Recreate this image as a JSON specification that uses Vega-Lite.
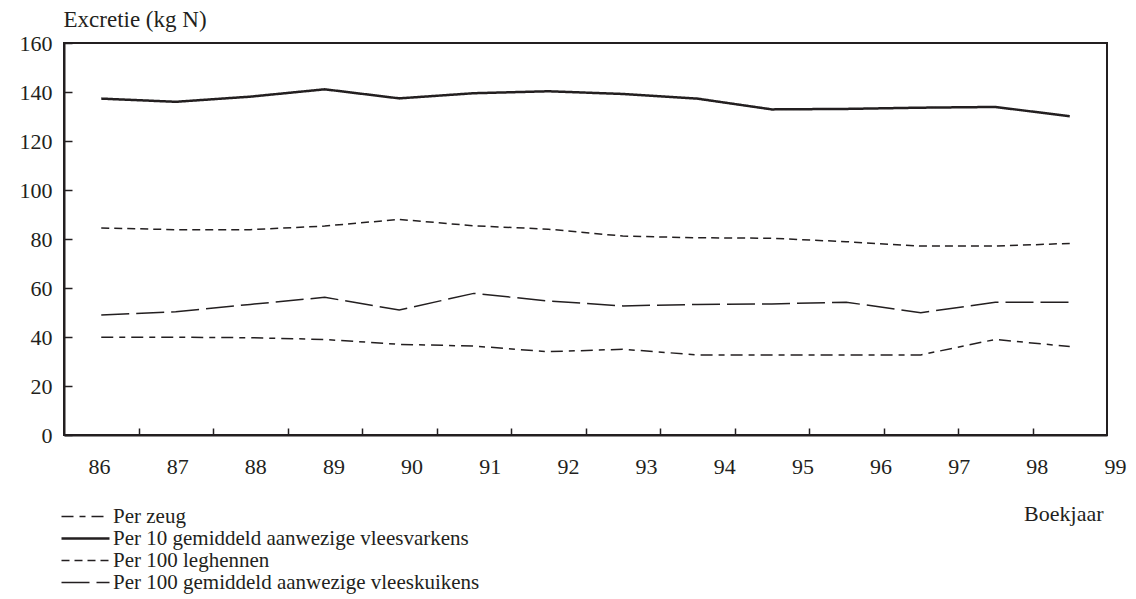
{
  "$schema": "https://vega.github.io/schema/vega-lite/v6.json",
  "width": 1043,
  "height": 392,
  "autosize": {"type": "none"},
  "padding": {"left": 64, "top": 43, "right": 29, "bottom": 164},
  "background": "white",
  "config": {
    "view": {"stroke": "#231f20", "strokeWidth": 2},
    "font": "Liberation Serif",
    "axis": {"grid": false, "labelFont": "Liberation Serif", "titleFont": "Liberation Serif", "labelColor": "#231f20", "titleColor": "#231f20", "domainColor": "#231f20", "tickColor": "#231f20", "titleFontWeight": "normal"}
  },
  "data": {
    "values": [
      {"year": 86, "series": "Per zeug", "value": 39.9},
      {"year": 87, "series": "Per zeug", "value": 39.9},
      {"year": 88, "series": "Per zeug", "value": 39.7},
      {"year": 89, "series": "Per zeug", "value": 39.0},
      {"year": 90, "series": "Per zeug", "value": 37.0},
      {"year": 91, "series": "Per zeug", "value": 36.3},
      {"year": 92, "series": "Per zeug", "value": 34.0},
      {"year": 93, "series": "Per zeug", "value": 35.0},
      {"year": 94, "series": "Per zeug", "value": 32.7},
      {"year": 95, "series": "Per zeug", "value": 32.7},
      {"year": 96, "series": "Per zeug", "value": 32.7},
      {"year": 97, "series": "Per zeug", "value": 32.7},
      {"year": 98, "series": "Per zeug", "value": 39.0},
      {"year": 99, "series": "Per zeug", "value": 36.1},
      {"year": 86, "series": "Per 10 gemiddeld aanwezige vleesvarkens", "value": 137.3},
      {"year": 87, "series": "Per 10 gemiddeld aanwezige vleesvarkens", "value": 136.0},
      {"year": 88, "series": "Per 10 gemiddeld aanwezige vleesvarkens", "value": 138.1},
      {"year": 89, "series": "Per 10 gemiddeld aanwezige vleesvarkens", "value": 141.1},
      {"year": 90, "series": "Per 10 gemiddeld aanwezige vleesvarkens", "value": 137.4},
      {"year": 91, "series": "Per 10 gemiddeld aanwezige vleesvarkens", "value": 139.5},
      {"year": 92, "series": "Per 10 gemiddeld aanwezige vleesvarkens", "value": 140.3},
      {"year": 93, "series": "Per 10 gemiddeld aanwezige vleesvarkens", "value": 139.2},
      {"year": 94, "series": "Per 10 gemiddeld aanwezige vleesvarkens", "value": 137.3},
      {"year": 95, "series": "Per 10 gemiddeld aanwezige vleesvarkens", "value": 132.9},
      {"year": 96, "series": "Per 10 gemiddeld aanwezige vleesvarkens", "value": 133.1},
      {"year": 97, "series": "Per 10 gemiddeld aanwezige vleesvarkens", "value": 133.6},
      {"year": 98, "series": "Per 10 gemiddeld aanwezige vleesvarkens", "value": 133.9},
      {"year": 99, "series": "Per 10 gemiddeld aanwezige vleesvarkens", "value": 130.1},
      {"year": 86, "series": "Per 100 leghennen", "value": 84.5},
      {"year": 87, "series": "Per 100 leghennen", "value": 83.8},
      {"year": 88, "series": "Per 100 leghennen", "value": 83.8},
      {"year": 89, "series": "Per 100 leghennen", "value": 85.3},
      {"year": 90, "series": "Per 100 leghennen", "value": 88.0},
      {"year": 91, "series": "Per 100 leghennen", "value": 85.4},
      {"year": 92, "series": "Per 100 leghennen", "value": 84.0},
      {"year": 93, "series": "Per 100 leghennen", "value": 81.2},
      {"year": 94, "series": "Per 100 leghennen", "value": 80.5},
      {"year": 95, "series": "Per 100 leghennen", "value": 80.3},
      {"year": 96, "series": "Per 100 leghennen", "value": 78.9},
      {"year": 97, "series": "Per 100 leghennen", "value": 77.1},
      {"year": 98, "series": "Per 100 leghennen", "value": 77.1},
      {"year": 99, "series": "Per 100 leghennen", "value": 78.2},
      {"year": 86, "series": "Per 100 gemiddeld aanwezige vleeskuikens", "value": 49.0},
      {"year": 87, "series": "Per 100 gemiddeld aanwezige vleeskuikens", "value": 50.3},
      {"year": 88, "series": "Per 100 gemiddeld aanwezige vleeskuikens", "value": 53.3},
      {"year": 89, "series": "Per 100 gemiddeld aanwezige vleeskuikens", "value": 56.2},
      {"year": 90, "series": "Per 100 gemiddeld aanwezige vleeskuikens", "value": 51.0},
      {"year": 91, "series": "Per 100 gemiddeld aanwezige vleeskuikens", "value": 57.8},
      {"year": 92, "series": "Per 100 gemiddeld aanwezige vleeskuikens", "value": 54.7},
      {"year": 93, "series": "Per 100 gemiddeld aanwezige vleeskuikens", "value": 52.7},
      {"year": 94, "series": "Per 100 gemiddeld aanwezige vleeskuikens", "value": 53.3},
      {"year": 95, "series": "Per 100 gemiddeld aanwezige vleeskuikens", "value": 53.5},
      {"year": 96, "series": "Per 100 gemiddeld aanwezige vleeskuikens", "value": 54.2},
      {"year": 97, "series": "Per 100 gemiddeld aanwezige vleeskuikens", "value": 49.9},
      {"year": 98, "series": "Per 100 gemiddeld aanwezige vleeskuikens", "value": 54.2},
      {"year": 99, "series": "Per 100 gemiddeld aanwezige vleeskuikens", "value": 54.2}
    ]
  },
  "layer": [
    {
      "mark": {"type": "line", "color": "#231f20", "strokeCap": "butt"},
      "encoding": {
        "x": {
          "field": "year", "type": "quantitative",
          "scale": {"domain": [85.5, 99.5], "nice": false, "zero": false},
          "axis": {
            "orient": "bottom",
            "values": [86.5, 87.5, 88.5, 89.5, 90.5, 91.5, 92.5, 93.5, 94.5, 95.5, 96.5, 97.5, 98.5],
            "labels": false, "ticks": true, "tickSize": -7, "tickWidth": 1.5,
            "domain": true, "domainWidth": 2,
            "title": "Boekjaar", "titleX": 1039, "titleY": 85, "titleAlign": "right",
            "titleBaseline": "alphabetic", "titleFontSize": 22
          }
        },
        "y": {
          "field": "value", "type": "quantitative",
          "scale": {"domain": [0, 160], "nice": false},
          "axis": {
            "values": [0, 20, 40, 60, 80, 100, 120, 140, 160],
            "tickSize": -8, "tickWidth": 1.5, "domainWidth": 2,
            "labelPadding": 20, "labelFontSize": 22,
            "title": "Excretie (kg N)", "titleAngle": 0, "titleX": -1, "titleY": -17,
            "titleAlign": "left", "titleBaseline": "alphabetic", "titleFontSize": 23
          }
        },
        "strokeDash": {
          "field": "series", "type": "nominal",
          "scale": {
            "domain": ["Per zeug", "Per 10 gemiddeld aanwezige vleesvarkens", "Per 100 leghennen", "Per 100 gemiddeld aanwezige vleeskuikens"],
            "range": [[12, 6, 6, 6], [1, 0], [8, 5], [28, 7]]
          },
          "legend": {
            "orient": "none", "legendX": 11, "legendY": 463, "title": null,
            "direction": "vertical",
            "symbolType": "stroke", "symbolSize": 2304, "symbolStrokeColor": "#231f20",
            "symbolStrokeWidth": 1.5,
            "labelFont": "Liberation Serif", "labelFontSize": 21, "labelColor": "#231f20",
            "labelOffset": 17, "rowPadding": 0, "labelLimit": 600,
            "encode": {
              "symbols": {"update": {"strokeWidth": {"signal": "datum.value === 'Per 10 gemiddeld aanwezige vleesvarkens' ? 2.5 : 1.5"}}}
            }
          }
        },
        "strokeWidth": {
          "condition": {"test": "datum.series === 'Per 10 gemiddeld aanwezige vleesvarkens'", "value": 2.5},
          "value": 1.5
        }
      }
    },
    {
      "mark": {"type": "point", "opacity": 0},
      "encoding": {
        "x": {
          "field": "year", "type": "quantitative",
          "scale": {"domain": [86, 99], "range": [35, 1051], "nice": false, "zero": false},
          "axis": {
            "orient": "bottom", "values": [86, 87, 88, 89, 90, 91, 92, 93, 94, 95, 96, 97, 98, 99],
            "format": "d", "ticks": false, "domain": false, "labelPadding": 21,
            "labelFontSize": 22, "labelBound": false, "labelFlush": false, "labelOverlap": false, "title": null
          }
        },
        "y": {"field": "value", "type": "quantitative"}
      }
    }
  ],
  "resolve": {"scale": {"x": "independent"}}
}
